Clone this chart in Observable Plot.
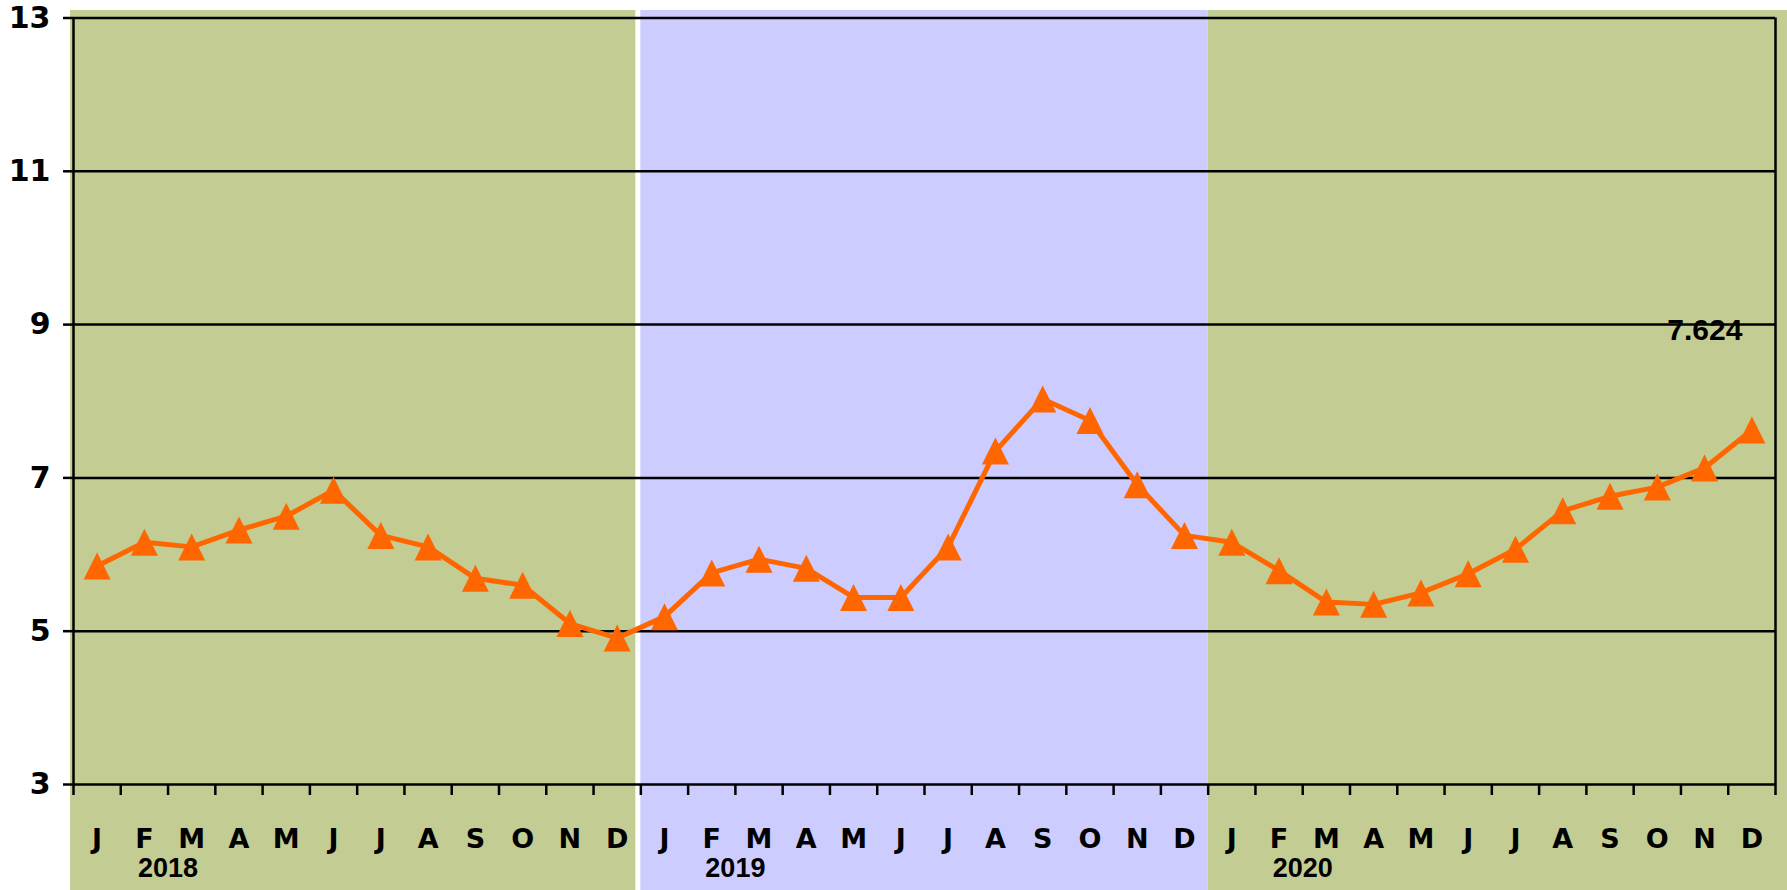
<!DOCTYPE html>
<html>
<head>
<meta charset="utf-8">
<script src="https://cdn.jsdelivr.net/npm/d3@7"></script>
<script src="https://cdn.jsdelivr.net/npm/@observablehq/plot@0.6"></script>
<style>
  html, body { margin: 0; padding: 0; background: #ffffff; }
  #chart svg { display: block; }
</style>
</head>
<body>
<div id="chart"></div>
<script>
// ---- data ----
const monthLetters = ["J","F","M","A","M","J","J","A","S","O","N","D"];
const years = ["2018","2019","2020"];
const values2018 = [5.85, 6.16, 6.10, 6.32, 6.50, 6.84, 6.25, 6.10, 5.69, 5.60, 5.10, 4.91];
const values2019 = [5.19, 5.76, 5.94, 5.82, 5.44, 5.44, 6.10, 7.35, 8.03, 7.75, 6.91, 6.25];
const values2020 = [6.16, 5.79, 5.38, 5.35, 5.50, 5.75, 6.07, 6.57, 6.76, 6.88, 7.13, 7.624];
const yTicks = [3, 5, 7, 9, 11, 13];

// ---- derived tables ----
const series = [values2018, values2019, values2020].flat()
  .map((v, i) => ({i, x: i + 0.5, value: v}));
const yearBands = years.map((y, k) => ({year: y, x1: k * 12, x2: (k + 1) * 12}));
const last = series[series.length - 1];

const GREEN = "#C3CC92";
const BLUE = "#CCCCFF";
const ORANGE = "#FF6600";

const triangle = {
  draw(context, size) {
    const r = Math.sqrt(size / Math.PI);
    context.moveTo(0, -r);
    context.lineTo(r, r);
    context.lineTo(-r, r);
    context.closePath();
  }
};

const numFont = "DejaVu Sans, sans-serif";
const arialFont = "Liberation Sans, Arial, sans-serif";

const chart = Plot.plot({
  width: 1787,
  height: 890,
  marginLeft: 73,
  marginRight: 12,
  marginTop: 17.5,
  marginBottom: 106,
  x: {type: "linear", domain: [0, 36], axis: null},
  y: {domain: [3, 13], axis: null},
  marks: [
    // year background bands
    Plot.rect([yearBands[0]], {x1: "x1", x2: "x2", fill: GREEN, insetLeft: -3, insetRight: 5, insetTop: -7.5, insetBottom: -106}),
    Plot.rect([yearBands[1]], {x1: "x1", x2: "x2", fill: BLUE, insetLeft: 0, insetRight: 0, insetTop: -7.5, insetBottom: -106}),
    Plot.rect([yearBands[2]], {x1: "x1", x2: "x2", fill: GREEN, insetLeft: 0, insetRight: -12, insetTop: -7.5, insetBottom: -106}),
    // horizontal gridlines
    Plot.gridY(yTicks, {stroke: "#000", strokeOpacity: 1, strokeWidth: 2.5}),
    // vertical frame lines
    Plot.ruleX([0, 36], {stroke: "#000", strokeWidth: 2.5}),
    // y axis labels + ticks
    Plot.axisY({
      ticks: yTicks, tickSize: 10, tickPadding: 13, label: null,
      stroke: "#000", strokeWidth: 2.5,
      fontSize: 30, fontWeight: "bold", fontFamily: numFont, fill: "#000"
    }),
    // x tick marks at month boundaries
    Plot.axisX({
      ticks: d3.range(0, 37), tickSize: 11, tickFormat: () => "", label: null,
      stroke: "#000", strokeWidth: 2.5
    }),
    // month letters
    Plot.axisX({
      ticks: d3.range(36).map(i => i + 0.5), tickSize: 0, tickPadding: 44, label: null,
      tickFormat: d => monthLetters[Math.floor(d) % 12],
      fontSize: 27, fontWeight: "bold", fontFamily: numFont, fill: "#000"
    }),
    // year labels
    Plot.axisX({
      ticks: yearBands.map(b => b.x1 + 2), tickSize: 0, tickPadding: 73, label: null,
      tickFormat: d => years[Math.floor(d / 12)],
      fontSize: 27, fontWeight: "bold", fontFamily: arialFont, fill: "#000"
    }),
    // series
    Plot.line(series, {x: "x", y: "value", stroke: ORANGE, strokeWidth: 5, curve: "linear"}),
    Plot.dot(series, {x: "x", y: "value", symbol: triangle, r: 13.5, fill: ORANGE, stroke: "none"}),
    // last value label
    Plot.text([last], {
      x: "x", y: "value", text: d => d3.format(".3f")(d.value),
      dx: -47, dy: -100,
      fontSize: 30, fontWeight: "bold", fontFamily: arialFont, fill: "#000"
    })
  ]
});

document.getElementById("chart").appendChild(chart);
</script>
</body>
</html>
